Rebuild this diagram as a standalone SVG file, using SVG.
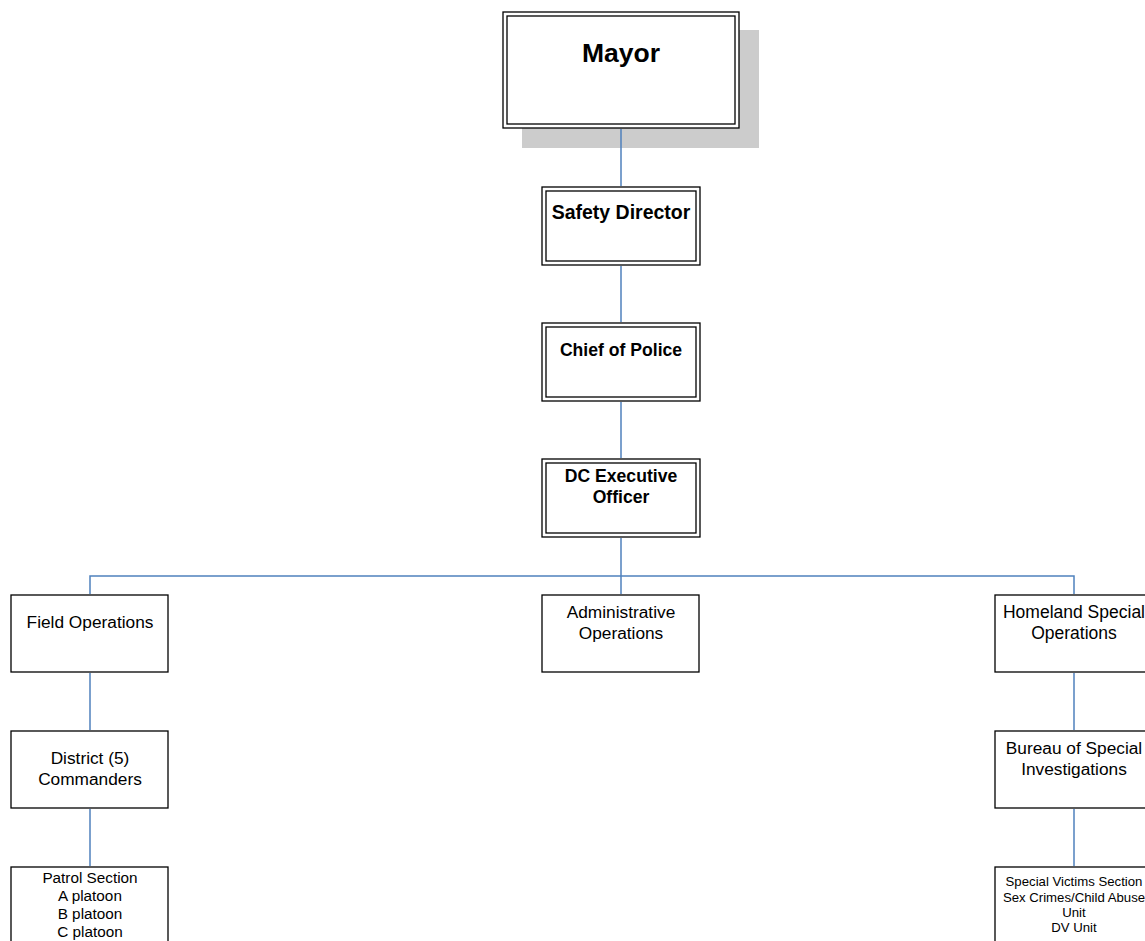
<svg xmlns="http://www.w3.org/2000/svg" width="1145" height="941" viewBox="0 0 1145 941">
<style>
.box{fill:#fff;stroke:#000;stroke-width:1.3}
.in{fill:none;stroke:#000;stroke-width:1.3}
.c{stroke:#4F81BD;stroke-width:1.5;fill:none}
text{font-family:"Liberation Sans",Arial,sans-serif;text-anchor:middle;fill:#000}
.b{font-weight:bold}
</style>
<rect width="1145" height="941" fill="#fff"/>
<g id="mayor">
<rect x="522" y="30" width="237" height="118" fill="#cccccc"/>
<rect class="box" x="503" y="12" width="236" height="116"/>
<rect class="in" x="507" y="16" width="228" height="108"/>
<text class="b" x="621" y="62" font-size="26.5">Mayor</text>
</g>
<g id="safety">
<rect class="box" x="542" y="187" width="158" height="78"/>
<rect class="in" x="546" y="191" width="150" height="70"/>
<text class="b" x="621" y="219" font-size="19.5">Safety Director</text>
</g>
<g id="chief">
<rect class="box" x="542" y="323" width="158" height="78"/>
<rect class="in" x="546" y="327" width="150" height="70"/>
<text class="b" x="621" y="356" font-size="17.6">Chief of Police</text>
</g>
<g id="dc">
<rect class="box" x="542" y="459" width="158" height="78"/>
<rect class="in" x="546" y="463" width="150" height="70"/>
<text class="b" x="621" y="482" font-size="17.6">DC Executive</text>
<text class="b" x="621" y="503" font-size="17.6">Officer</text>
</g>
<g id="field">
<rect class="box" x="11" y="595" width="157" height="77"/>
<text x="90" y="628" font-size="17.3">Field Operations</text>
</g>
<g id="admin">
<rect class="box" x="542" y="595" width="157" height="77"/>
<text x="621" y="618" font-size="17.3">Administrative</text>
<text x="621" y="639" font-size="17.3">Operations</text>
</g>
<g id="homeland">
<rect class="box" x="995" y="595" width="157" height="77"/>
<text x="1074" y="618" font-size="17.5">Homeland Special</text>
<text x="1074" y="639" font-size="17.5">Operations</text>
</g>
<g id="district">
<rect class="box" x="11" y="731" width="157" height="77"/>
<text x="90" y="764" font-size="17.3">District (5)</text>
<text x="90" y="785" font-size="17.3">Commanders</text>
</g>
<g id="bureau">
<rect class="box" x="995" y="731" width="157" height="77"/>
<text x="1074" y="754" font-size="17.3">Bureau of Special</text>
<text x="1074" y="775" font-size="17.3">Investigations</text>
</g>
<g id="patrol">
<rect class="box" x="11" y="867" width="157" height="80"/>
<text x="90" y="883" font-size="15.3">Patrol Section</text>
<text x="90" y="901" font-size="15.3">A platoon</text>
<text x="90" y="919" font-size="15.3">B platoon</text>
<text x="90" y="937" font-size="15.3">C platoon</text>
</g>
<g id="victims">
<rect class="box" x="995" y="867" width="157" height="80"/>
<text x="1074" y="886" font-size="13.2">Special Victims Section</text>
<text x="1074" y="902" font-size="13.2">Sex Crimes/Child Abuse</text>
<text x="1074" y="917" font-size="13.2">Unit</text>
<text x="1074" y="932" font-size="13.2">DV Unit</text>
</g>
<g id="connectors">
<line class="c" x1="621" y1="129" x2="621" y2="186"/>
<line class="c" x1="621" y1="266" x2="621" y2="322"/>
<line class="c" x1="621" y1="402" x2="621" y2="458"/>
<line class="c" x1="621" y1="538" x2="621" y2="594"/>
<polyline class="c" points="90,594 90,576 1074,576 1074,594"/>
<line class="c" x1="90" y1="673" x2="90" y2="730"/>
<line class="c" x1="90" y1="809" x2="90" y2="866"/>
<line class="c" x1="1074" y1="673" x2="1074" y2="730"/>
<line class="c" x1="1074" y1="809" x2="1074" y2="866"/>
</g>
</svg>
